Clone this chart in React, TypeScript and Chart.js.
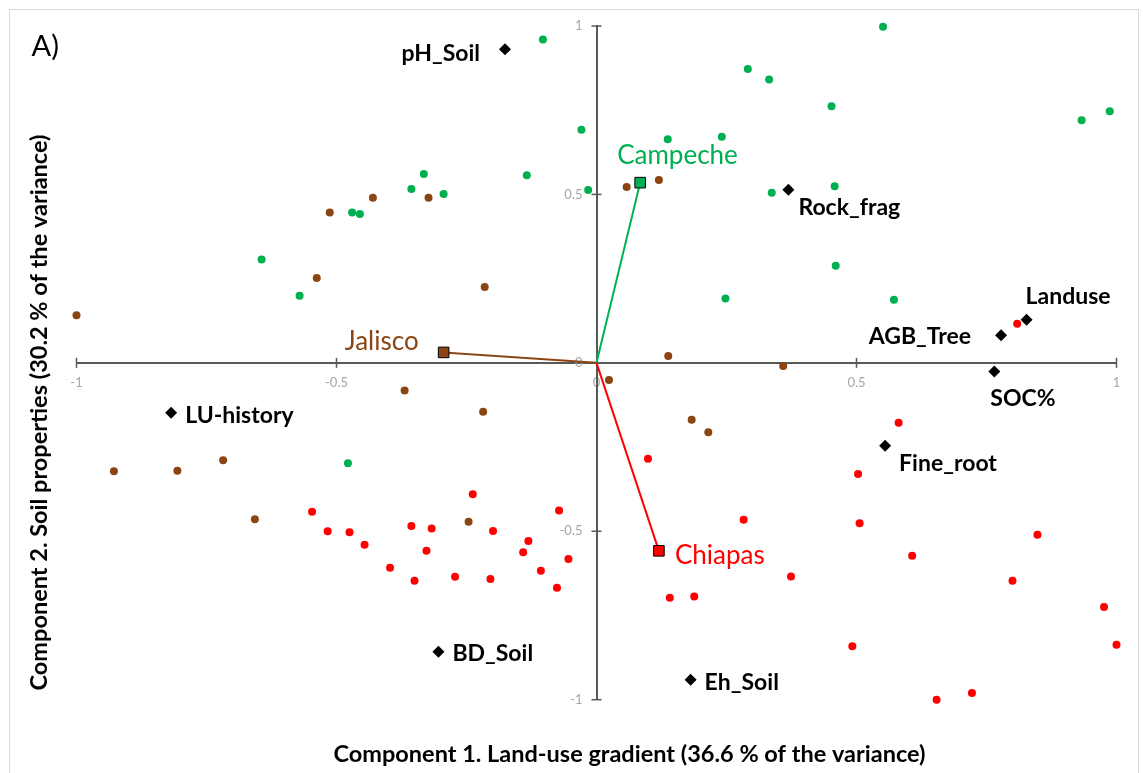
import React, { useEffect, useRef } from "react";
import { Chart, registerables } from "chart.js";

Chart.register(...registerables);

// ---------- data ----------
const campecheX = [-0.103, -0.029, -0.134, -0.332, -0.356, -0.294, -0.47, -0.455, -0.644, -0.571, -0.016, 0.137, 0.241, 0.291, 0.332, 0.452, 0.551, 0.933, 0.987, 0.337, 0.458, 0.46, 0.248, 0.572, -0.478];
const campecheY = [0.96, 0.692, 0.557, 0.561, 0.516, 0.501, 0.446, 0.442, 0.307, 0.199, 0.513, 0.664, 0.671, 0.872, 0.841, 0.762, 0.998, 0.72, 0.747, 0.505, 0.524, 0.288, 0.191, 0.187, -0.298];

const jaliscoX = [-0.43, -0.513, -0.323, -0.538, -0.215, -1.0, 0.058, 0.12, 0.138, 0.359, 0.024, -0.369, -0.218, -0.928, -0.806, -0.718, -0.657, -0.246, 0.183, 0.215];
const jaliscoY = [0.49, 0.446, 0.49, 0.252, 0.225, 0.141, 0.522, 0.543, 0.02, -0.009, -0.051, -0.082, -0.145, -0.322, -0.32, -0.289, -0.464, -0.472, -0.169, -0.206];

const chiapasX = [0.809, -0.547, -0.517, -0.475, -0.446, -0.397, -0.35, -0.356, -0.317, -0.327, -0.238, -0.199, -0.272, -0.204, -0.141, -0.131, -0.072, -0.054, -0.107, -0.076, 0.099, 0.503, 0.581, 0.506, 0.283, 0.848, 0.607, 0.374, 0.8, 0.141, 0.188, 0.976, 0.492, 1.0, 0.654, 0.722];
const chiapasY = [0.116, -0.442, -0.5, -0.503, -0.54, -0.608, -0.647, -0.484, -0.492, -0.558, -0.39, -0.499, -0.635, -0.642, -0.562, -0.529, -0.438, -0.582, -0.617, -0.668, -0.285, -0.33, -0.178, -0.476, -0.466, -0.51, -0.573, -0.634, -0.647, -0.697, -0.694, -0.725, -0.841, -0.837, -1.0, -0.98];

const variableNames = ["pH_Soil", "Rock_frag", "Landuse", "AGB_Tree", "SOC%", "Fine_root", "LU-history", "BD_Soil", "Eh_Soil"];
const variableX = [-0.176, 0.369, 0.827, 0.778, 0.765, 0.555, -0.818, -0.304, 0.181];
const variableY = [0.931, 0.514, 0.128, 0.082, -0.026, -0.246, -0.148, -0.858, -0.941];

const regionNames = ["Campeche", "Jalisco", "Chiapas"];
const centroidX = [0.084, -0.294, 0.12];
const centroidY = [0.535, 0.031, -0.558];

const axisMin = -1;
const axisMax = 1;
const axisStep = 0.5;

const xTitle = "Component 1. Land-use gradient (36.6 % of the variance)";
const yTitle = "Component 2. Soil properties (30.2 % of the variance)";
const panelLabel = "A)";

// ---------- styles ----------
const GREEN = "#00B050";
const BROWN = "#8B4513";
const RED = "#FF0000";
const AXIS = "#595959";
const FONT = "Lato, 'Open Sans', sans-serif";

const regionColors = [GREEN, BROWN, RED];

const varPlacement: Record<string, { dx: number; dy: number; align: CanvasTextAlign }> = {
  "pH_Soil": { dx: -25, dy: 12, align: "right" },
  "Rock_frag": { dx: 10, dy: 25, align: "left" },
  "Landuse": { dx: -1, dy: -16, align: "left" },
  "AGB_Tree": { dx: -30, dy: 9, align: "right" },
  "SOC%": { dx: -4, dy: 34, align: "left" },
  "Fine_root": { dx: 14, dy: 25, align: "left" },
  "LU-history": { dx: 14, dy: 10, align: "left" },
  "BD_Soil": { dx: 14, dy: 9, align: "left" },
  "Eh_Soil": { dx: 14, dy: 10, align: "left" },
};

const regionPlacement: Record<string, { dx: number; dy: number; align: CanvasTextAlign }> = {
  Campeche: { dx: -23, dy: -19, align: "left" },
  Jalisco: { dx: -25, dy: -2, align: "right" },
  Chiapas: { dx: 16, dy: 13, align: "left" },
};

const zip = (xs: number[], ys: number[]) => xs.map((x, i) => ({ x, y: ys[i] }));

const decorPlugin = {
  id: "decor",
  beforeDraw(chart: any) {
    const { ctx, width, height } = chart;
    ctx.save();
    ctx.fillStyle = "#ffffff";
    ctx.fillRect(0, 0, width, height);
    ctx.strokeStyle = "#d9d9d9";
    ctx.lineWidth = 1;
    ctx.strokeRect(9.5, 9.5, 1129, 800);
    ctx.restore();
  },
  afterDraw(chart: any) {
    const { ctx } = chart;
    const xs = chart.scales.x;
    const ys = chart.scales.y;
    const x0 = xs.getPixelForValue(0);
    const y0 = ys.getPixelForValue(0);
    ctx.save();
    // crossing tick marks
    ctx.strokeStyle = AXIS;
    ctx.lineWidth = 1.5;
    xs.ticks.forEach((t: any) => {
      if (t.value === 0) return;
      const p = xs.getPixelForValue(t.value);
      ctx.beginPath();
      ctx.moveTo(p, y0 - 5);
      ctx.lineTo(p, y0 + 5);
      ctx.stroke();
    });
    ys.ticks.forEach((t: any) => {
      if (t.value === 0) return;
      const p = ys.getPixelForValue(t.value);
      ctx.beginPath();
      ctx.moveTo(x0 - 5, p);
      ctx.lineTo(x0 + 5, p);
      ctx.stroke();
    });

    // variable labels
    const varMeta = chart.getDatasetMeta(4);
    ctx.fillStyle = "#000000";
    ctx.font = `bold 23px ${FONT}`;
    ctx.textBaseline = "alphabetic";
    variableNames.forEach((name, i) => {
      const el = varMeta.data[i];
      const pl = varPlacement[name];
      ctx.textAlign = pl.align;
      ctx.fillText(name, el.x + pl.dx, el.y + pl.dy);
    });

    // region labels
    const cMeta = chart.getDatasetMeta(6);
    ctx.font = `26px ${FONT}`;
    regionNames.forEach((name, i) => {
      const el = cMeta.data[i];
      const pl = regionPlacement[name];
      ctx.textAlign = pl.align;
      ctx.fillStyle = regionColors[i];
      ctx.fillText(name, el.x + pl.dx, el.y + pl.dy);
    });

    // axis titles
    ctx.fillStyle = "#000000";
    ctx.font = `bold 23.5px ${FONT}`;
    ctx.textAlign = "center";
    ctx.fillText(xTitle, 629.5, 762);
    ctx.save();
    ctx.translate(46.5, 412.5);
    ctx.rotate(-Math.PI / 2);
    ctx.fillText(yTitle, 0, 0);
    ctx.restore();

    // panel label
    ctx.font = `29px ${FONT}`;
    ctx.textAlign = "left";
    ctx.fillText(panelLabel, 31.5, 56);
    ctx.restore();
  },
};

export default function App() {
  const canvasRef = useRef<HTMLCanvasElement | null>(null);

  useEffect(() => {
    const canvas = canvasRef.current;
    if (!canvas) return;

    const lineDs = regionNames.map((name, i) => ({
      label: name + " vector",
      data: [{ x: 0, y: 0 }, { x: centroidX[i], y: centroidY[i] }],
      showLine: true,
      borderColor: regionColors[i],
      borderWidth: 2,
      pointRadius: 0,
      order: 5,
      clip: false as any,
    }));

    const chart = new Chart(canvas, {
      type: "scatter",
      data: {
        datasets: [
          {
            label: "Campeche",
            data: zip(campecheX, campecheY),
            backgroundColor: GREEN,
            borderColor: GREEN,
            pointRadius: 4,
            borderWidth: 0,
            order: 3,
            clip: false as any,
          },
          {
            label: "Jalisco",
            data: zip(jaliscoX, jaliscoY),
            backgroundColor: BROWN,
            borderColor: BROWN,
            pointRadius: 4,
            borderWidth: 0,
            order: 3,
            clip: false as any,
          },
          {
            label: "Chiapas",
            data: zip(chiapasX, chiapasY),
            backgroundColor: RED,
            borderColor: RED,
            pointRadius: 4,
            borderWidth: 0,
            order: 3,
            clip: false as any,
          },
          lineDs[0] as any,
          {
            label: "Variables",
            data: zip(variableX, variableY),
            backgroundColor: "#000000",
            borderColor: "#000000",
            pointStyle: "rectRot",
            pointRadius: 6,
            borderWidth: 0,
            order: 2,
            clip: false as any,
          },
          lineDs[1] as any,
          {
            label: "Centroids",
            data: zip(centroidX, centroidY),
            backgroundColor: regionColors,
            borderColor: "#000000",
            pointStyle: "rect",
            pointRadius: 7.5,
            borderWidth: 1,
            order: 1,
            clip: false as any,
          },
          lineDs[2] as any,
        ],
      },
      options: {
        animation: false,
        responsive: false,
        devicePixelRatio: 1,
        layout: { padding: { left: 76.5, right: 26.5, top: 26, bottom: 73.3 } },
        plugins: {
          legend: { display: false },
          tooltip: { enabled: false },
        },
        scales: {
          x: {
            type: "linear",
            position: "center",
            min: axisMin,
            max: axisMax,
            ticks: {
              stepSize: axisStep,
              padding: 12,
              color: "#a6a6a6",
              font: { family: FONT, size: 13 },
              callback: (v: any) => String(v),
            },
            grid: { display: true, drawOnChartArea: false, drawTicks: false },
            border: { display: true, color: AXIS, width: 2 },
          },
          y: {
            type: "linear",
            position: "center",
            min: axisMin,
            max: axisMax,
            ticks: {
              stepSize: axisStep,
              padding: 14,
              color: "#a6a6a6",
              font: { family: FONT, size: 13 },
              callback: (v: any) => String(v),
            },
            grid: { display: true, drawOnChartArea: false, drawTicks: false },
            border: { display: true, color: AXIS, width: 2 },
          },
        },
      },
      plugins: [decorPlugin],
    });

    return () => chart.destroy();
  }, []);

  return (
    <div style={{ position: "absolute", left: 0, top: 0, width: 1143, height: 773 }}>
      <canvas ref={canvasRef} width={1143} height={773} />
    </div>
  );
}
